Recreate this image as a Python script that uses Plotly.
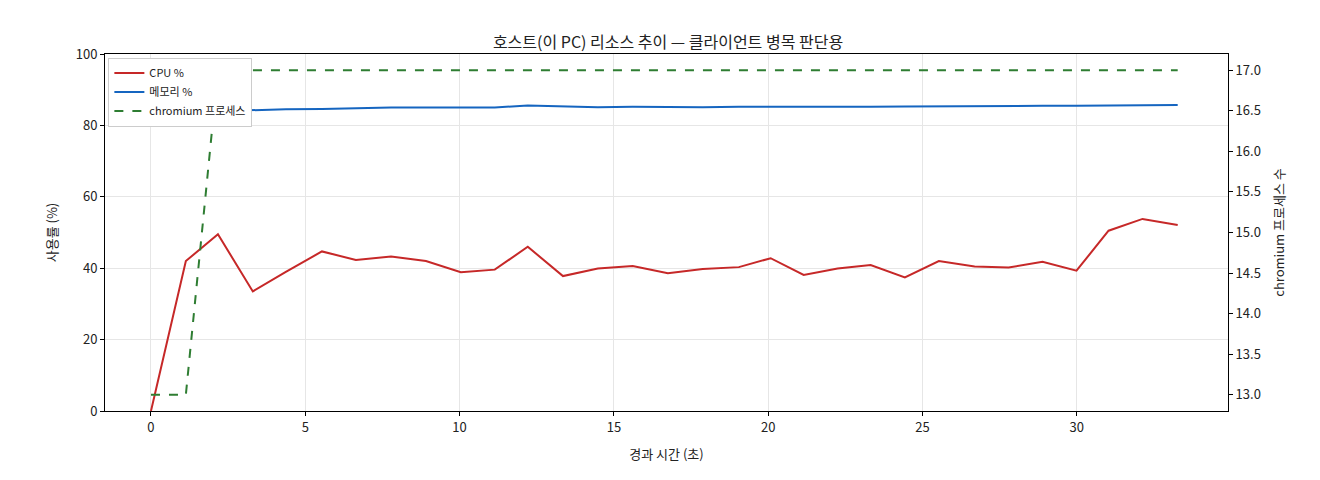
import plotly.graph_objects as go

elapsed = [0, 1.13, 2.17, 3.3, 4.37, 5.54, 6.64, 7.78, 8.91, 10.04, 11.14, 12.21, 13.35, 14.48, 15.61, 16.75, 17.88, 19.05, 20.08, 21.15, 22.25, 23.32, 24.43, 25.53, 26.69, 27.79, 28.89, 29.99, 31.03, 32.13, 33.27]
cpu = [0, 42, 49.5, 33.5, 39, 44.7, 42.3, 43.3, 42, 38.9, 39.6, 46, 37.8, 39.9, 40.6, 38.6, 39.8, 40.3, 42.8, 38.1, 39.9, 40.9, 37.4, 42, 40.5, 40.2, 41.8, 39.3, 50.5, 53.8, 52.1]
memory = [83.3, 83.5, 84, 84.3, 84.5, 84.6, 84.9, 85, 85, 85, 85, 85.6, 85.3, 85.1, 85.2, 85.1, 85.1, 85.2, 85.2, 85, 85, 85.2, 85.3, 85.4, 85.5, 85.4, 85.5, 85.5, 85.6, 85.7, 85.7]
chromium = [13, 13] + [17] * 29

font = "Noto Sans CJK KR"
fig = go.Figure()
fig.add_trace(go.Scatter(x=elapsed, y=cpu, mode="lines", name="CPU %",
                         line=dict(color="#c62828", width=2)))
fig.add_trace(go.Scatter(x=elapsed, y=memory, mode="lines", name="메모리 %",
                         line=dict(color="#1565c0", width=2)))
fig.add_trace(go.Scatter(x=elapsed, y=chromium, mode="lines", name="chromium 프로세스",
                         line=dict(color="#2e7d32", width=2, dash="dash"), yaxis="y2"))

axis_common = dict(showline=True, linecolor="black", ticks="outside",
                   tickcolor="black", ticklen=4, tickfont=dict(size=13, color="#222"))
fig.update_layout(
    width=1320, height=480,
    paper_bgcolor="white", plot_bgcolor="white",
    font=dict(family=font, color="#222"),
    margin=dict(l=97, r=100, t=46, b=77),
    title=dict(text="호스트(이 PC) 리소스 추이 — 클라이언트 병목 판단용", x=0.5, xanchor="center",
               y=0.94, font=dict(size=16)),
    xaxis=dict(title=dict(text="경과 시간 (초)", font=dict(size=13)), range=[-1.49, 34.9],
               tickvals=[0, 5, 10, 15, 20, 25, 30], showgrid=True, gridcolor="#e6e6e6",
               zeroline=False, mirror=True, **axis_common),
    yaxis=dict(title=dict(text="사용률 (%)", font=dict(size=13)), range=[0, 100], dtick=20,
               showgrid=True, gridcolor="#e6e6e6", zeroline=False, **axis_common),
    yaxis2=dict(title=dict(text="chromium 프로세스 수", font=dict(size=13)), overlaying="y",
                side="right", range=[12.8, 17.2], dtick=0.5, tickformat=".1f",
                showgrid=False, zeroline=False, **axis_common),
    legend=dict(x=0.003, y=0.99, xanchor="left", yanchor="top", bgcolor="white",
                bordercolor="#cccccc", borderwidth=1, font=dict(size=11)),
    showlegend=True,
)
fig.write_html("out.html")
